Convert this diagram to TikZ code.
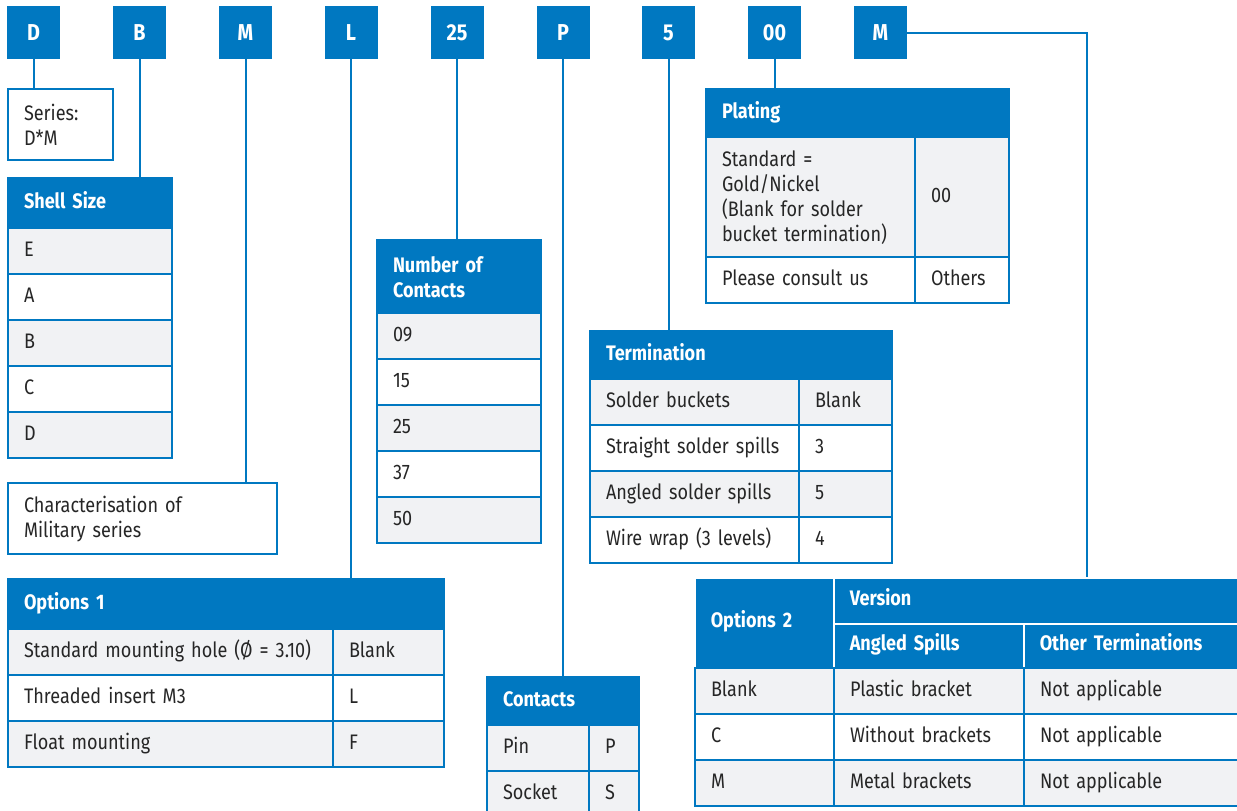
\documentclass[tikz,border=0pt]{standalone}
\usepackage{fontspec}
\setmainfont{Fira Sans}[FakeStretch=0.86]

\definecolor{brand}{HTML}{0078C1}
\definecolor{rowgray}{HTML}{F1F2F4}
\definecolor{ink}{HTML}{262626}

\newcommand{\txt}{\fontsize{21}{25}\selectfont}
\tikzset{
  codebox/.style={fill=brand,text=white,font=\fontsize{23}{26}\selectfont\bfseries,minimum size=53pt,inner sep=0pt},
  cell/.style={draw=brand,line width=2pt,anchor=north west,inner xsep=16pt,inner ysep=0pt,
               align=left,text=ink,font=\txt,execute at begin node=\strut},
  head/.style={cell,fill=brand,text=white,font=\txt\bfseries},
  headsplit/.style={head,draw=white,line width=1.5pt},
  grey/.style={fill=rowgray},
  link/.style={draw=brand,line width=2pt}
}
\newcommand{\tcell}[6][]{\node[cell,#1,text width=#4pt-32pt,minimum height=#5pt] (#2) at (#3) {#6}}

\begin{document}
\begin{tikzpicture}[x=1pt,y=-1pt]
  \useasboundingbox (0,0) rectangle (1237,811);

  % ordering code
  \node[codebox] (cD)  at ( 33.5,32.5) {D};
  \node[codebox] (cB)  at (139.5,32.5) {B};
  \node[codebox] (cM)  at (245.5,32.5) {M};
  \node[codebox] (cL)  at (351.0,32.5) {L};
  \node[codebox] (c25) at (457.0,32.5) {25};
  \node[codebox] (cP)  at (563.0,32.5) {P};
  \node[codebox] (c5)  at (668.5,32.5) {5};
  \node[codebox] (c00) at (774.5,32.5) {00};
  \node[codebox] (cM2) at (880.5,32.5) {M};

  % series
  \tcell{series}{7,88}{105}{71}{Series:\\D*M};

  % shell size
  \tcell[head]{shell}{7,177}{164}{50}{Shell Size};
  \tcell[grey]{shellE}{7,227}{164}{46}{E};
  \tcell{shellA}{7,273}{164}{46}{A};
  \tcell[grey]{shellB}{7,319}{164}{46}{B};
  \tcell{shellC}{7,365}{164}{46}{C};
  \tcell[grey]{shellD}{7,411}{164}{46}{D};

  % military
  \tcell{charac}{7,482}{269}{71}{Characterisation of\\Military series};

  % options 1
  \tcell[head]{opt1}{7,578}{436}{50}{Options 1};
  \tcell[grey]{opt1a}{7,628}{325}{46}{Standard mounting hole (Ø = 3.10)};
  \tcell[grey]{opt1aa}{332,628}{111}{46}{Blank};
  \tcell{opt1b}{7,674}{325}{46}{Threaded insert M3};
  \tcell{opt1bb}{332,674}{111}{46}{L};
  \tcell[grey]{opt1c}{7,720}{325}{46}{Float mounting};
  \tcell[grey]{opt1cc}{332,720}{111}{46}{F};

  % number of contacts
  \tcell[head]{noc}{376,239}{164}{73}{Number of\\Contacts};
  \tcell[grey]{noc09}{376,312}{164}{46}{09};
  \tcell{noc15}{376,358}{164}{46}{15};
  \tcell[grey]{noc25}{376,404}{164}{46}{25};
  \tcell{noc37}{376,450}{164}{46}{37};
  \tcell[grey]{noc50}{376,496}{164}{46}{50};

  % contacts
  \tcell[head]{cont}{486,676}{152}{48}{Contacts};
  \tcell[grey]{pin}{486,724}{102}{46}{Pin};
  \tcell[grey]{pinP}{588,724}{50}{46}{P};
  \tcell[grey]{sock}{486,770}{102}{46}{Socket};
  \tcell[grey]{sockS}{588,770}{50}{46}{S};

  % termination
  \tcell[head]{term}{589,330}{302}{48}{Termination};
  \tcell[grey]{term1}{589,378}{209}{46}{Solder buckets};
  \tcell[grey]{term1c}{798,378}{93}{46}{Blank};
  \tcell{term2}{589,424}{209}{46}{Straight solder spills};
  \tcell{term2c}{798,424}{93}{46}{3};
  \tcell[grey]{term3}{589,470}{209}{46}{Angled solder spills};
  \tcell[grey]{term3c}{798,470}{93}{46}{5};
  \tcell{term4}{589,516}{209}{46}{Wire wrap (3 levels)};
  \tcell{term4c}{798,516}{93}{46}{4};

  % plating
  \tcell[head]{plat}{705,88}{303}{48}{Plating};
  \tcell[grey]{plat1}{705,136}{209}{120}{Standard =\\Gold/Nickel\\(Blank for solder\\bucket termination)};
  \tcell[grey]{plat1c}{914,136}{94}{120}{00};
  \tcell{plat2}{705,256}{209}{46}{Please consult us};
  \tcell{plat2c}{914,256}{94}{46}{Others};

  % options 2
  \tcell[headsplit]{opt2}{694,577}{139}{90}{Options 2};
  \tcell[headsplit]{ver}{833,577}{420}{46}{Version};
  \tcell[headsplit]{verA}{833,623}{190}{44}{Angled Spills};
  \tcell[headsplit]{verO}{1023,623}{230}{44}{Other Terminations};
  \tcell[grey]{o2a}{694,667}{139}{46}{Blank};
  \tcell[grey]{o2aA}{833,667}{190}{46}{Plastic bracket};
  \tcell[grey]{o2aO}{1023,667}{230}{46}{Not applicable};
  \tcell{o2b}{694,713}{139}{46}{C};
  \tcell{o2bA}{833,713}{190}{46}{Without brackets};
  \tcell{o2bO}{1023,713}{230}{46}{Not applicable};
  \tcell[grey]{o2c}{694,759}{139}{46}{M};
  \tcell[grey]{o2cA}{833,759}{190}{46}{Metal brackets};
  \tcell[grey]{o2cO}{1023,759}{230}{46}{Not applicable};

  % connectors
  \draw[link] (cD.south)  -- (cD.south  |- series.north);
  \draw[link] (cB.south)  -- (cB.south  |- shell.north);
  \draw[link] (cM.south)  -- (cM.south  |- charac.north);
  \draw[link] (cL.south)  -- (cL.south  |- opt1.north);
  \draw[link] (c25.south) -- (c25.south |- noc.north);
  \draw[link] (cP.south)  -- (cP.south  |- cont.north);
  \draw[link] (c5.south)  -- (c5.south  |- term.north);
  \draw[link] (c00.south) -- (c00.south |- plat.north);
  \coordinate (bend) at (1087,32.5);
  \draw[link] (cM2.east) -- (bend) -- (bend |- ver.north);
\end{tikzpicture}
\end{document}
